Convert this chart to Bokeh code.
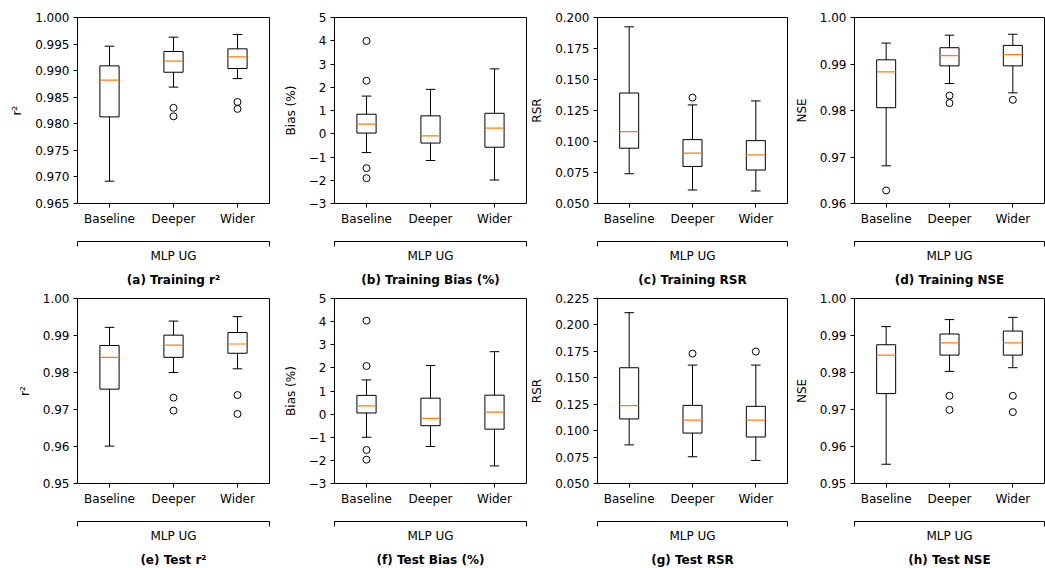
from bokeh.plotting import figure
from bokeh.models import Range1d, FixedTicker, LinearAxis, CustomJSTickFormatter
from bokeh.layouts import row, column
from bokeh.embed import file_html
from bokeh.resources import INLINE

FONT = "DejaVu Sans"

categories = ["Baseline", "Deeper", "Wider"]
group_label = "MLP UG"

# box stats per category: [whisker_low, q1, median, q3, whisker_high]
train_r2_box = [[0.9692, 0.9813, 0.9882, 0.9909, 0.9946],
                [0.9869, 0.9897, 0.9918, 0.9936, 0.9963],
                [0.9885, 0.9904, 0.9926, 0.9941, 0.9968]]
train_r2_fliers = [[], [0.9830, 0.9814], [0.9841, 0.9828]]
train_r2_ticks = [0.965, 0.970, 0.975, 0.980, 0.985, 0.990, 0.995, 1.000]

train_bias_box = [[-0.81, 0.03, 0.41, 0.84, 1.62],
                  [-1.15, -0.40, -0.09, 0.77, 1.91],
                  [-1.99, -0.58, 0.24, 0.88, 2.79]]
train_bias_fliers = [[3.99, 2.28, -1.48, -1.91], [], []]
bias_ticks = [-3, -2, -1, 0, 1, 2, 3, 4, 5]

train_rsr_box = [[0.0740, 0.0946, 0.1079, 0.1391, 0.1925],
                 [0.0609, 0.0799, 0.0906, 0.1015, 0.1295],
                 [0.0601, 0.0770, 0.0892, 0.1007, 0.1327]]
train_rsr_fliers = [[], [0.1354], []]
train_rsr_ticks = [0.050, 0.075, 0.100, 0.125, 0.150, 0.175, 0.200]

train_nse_box = [[0.9681, 0.9806, 0.9883, 0.9909, 0.9945],
                 [0.9858, 0.9896, 0.9918, 0.9935, 0.9962],
                 [0.9838, 0.9896, 0.9920, 0.9940, 0.9964]]
train_nse_fliers = [[0.9628], [0.9832, 0.9816], [0.9823]]
train_nse_ticks = [0.96, 0.97, 0.98, 0.99, 1.00]

test_r2_box = [[0.9601, 0.9755, 0.9841, 0.9873, 0.9922],
               [0.9800, 0.9841, 0.9874, 0.9901, 0.9939],
               [0.9810, 0.9852, 0.9877, 0.9908, 0.9951]]
test_r2_fliers = [[], [0.9732, 0.9697], [0.9739, 0.9688]]
test_r2_ticks = [0.95, 0.96, 0.97, 0.98, 0.99, 1.00]

test_bias_box = [[-1.00, 0.05, 0.36, 0.81, 1.48],
                 [-1.40, -0.50, -0.18, 0.69, 2.10],
                 [-2.24, -0.65, 0.09, 0.82, 2.70]]
test_bias_fliers = [[4.04, 2.08, -1.55, -1.97], [], []]

test_rsr_box = [[0.0865, 0.1111, 0.1236, 0.1595, 0.2116],
                [0.0753, 0.0977, 0.1099, 0.1239, 0.1620],
                [0.0718, 0.0940, 0.1099, 0.1230, 0.1620]]
test_rsr_fliers = [[], [0.1729], [0.1748]]
test_rsr_ticks = [0.050, 0.075, 0.100, 0.125, 0.150, 0.175, 0.200, 0.225]

test_nse_box = [[0.9552, 0.9743, 0.9847, 0.9875, 0.9924],
                [0.9803, 0.9847, 0.9880, 0.9904, 0.9943],
                [0.9813, 0.9847, 0.9880, 0.9912, 0.9949]]
test_nse_fliers = [[], [0.9737, 0.9699], [0.9737, 0.9693]]
test_nse_ticks = [0.95, 0.96, 0.97, 0.98, 0.99, 1.00]


def make_panel(box, fliers, yticks, decimals, ylabel, caption, left, fw, top, fh):
    p = figure(frame_width=fw, frame_height=fh,
               x_range=Range1d(0.5, 3.5), y_range=Range1d(yticks[0], yticks[-1]),
               output_backend="svg", toolbar_location=None,
               min_border_left=left, min_border_right=1, min_border_top=top,
               min_border_bottom=0, background_fill_color="white",
               border_fill_color="white")
    p.outline_line_color = "black"
    p.outline_line_width = 1
    p.outline_line_alpha = 1
    p.xgrid.visible = False
    p.ygrid.visible = False

    # y axis
    ya = p.yaxis[0]
    ya.ticker = FixedTicker(ticks=yticks)
    ya.formatter = CustomJSTickFormatter(
        args=dict(d=decimals),
        code="const s = Math.abs(tick).toFixed(d); return tick < -1e-9 ? '\u2212' + s : s;")
    ya.axis_line_color = None
    ya.major_tick_out = 4
    ya.major_tick_in = 0
    ya.major_tick_line_color = "black"
    ya.minor_tick_line_color = None
    ya.major_label_text_font = FONT
    ya.major_label_text_font_size = "12px"
    ya.major_label_text_color = "black"
    ya.major_label_standoff = 4
    ya.axis_label = ylabel
    ya.axis_label_text_font = FONT
    ya.axis_label_text_font_size = "12px"
    ya.axis_label_text_font_style = "normal"
    ya.axis_label_text_color = "black"
    ya.axis_label_standoff = 8

    # category axis
    xa = p.xaxis[0]
    xa.ticker = FixedTicker(ticks=[1, 2, 3])
    xa.major_label_overrides = {i + 1: c for i, c in enumerate(categories)}
    xa.axis_line_color = None
    xa.major_tick_out = 4
    xa.major_tick_in = 0
    xa.major_tick_line_color = "black"
    xa.minor_tick_line_color = None
    xa.major_label_text_font = FONT
    xa.major_label_text_font_size = "12px"
    xa.major_label_text_color = "black"
    xa.major_label_standoff = 4
    xa.axis_label = " "
    xa.axis_label_text_font_size = "9px"
    xa.axis_label_standoff = 0

    # group bracket axis
    ga = LinearAxis(ticker=FixedTicker(ticks=[0.5, 3.5]),
                    formatter=CustomJSTickFormatter(code="return '';"),
                    axis_line_color="black", axis_line_width=1,
                    major_tick_out=5, major_tick_in=0,
                    major_tick_line_color="black",
                    minor_tick_line_color=None,
                    major_label_text_font_size="0px", major_label_standoff=0,
                    axis_label=group_label, axis_label_text_font=FONT,
                    axis_label_text_font_size="12px",
                    axis_label_text_font_style="normal",
                    axis_label_text_color="black",
                    axis_label_standoff=2)
    p.add_layout(ga, "below")

    # caption axis
    ca = LinearAxis(ticker=FixedTicker(ticks=[]),
                    axis_line_color=None, major_tick_line_color=None,
                    minor_tick_line_color=None, major_tick_out=0, major_tick_in=0,
                    major_label_text_font_size="0px", major_label_standoff=0,
                    axis_label=caption, axis_label_text_font=FONT,
                    axis_label_text_font_size="12px",
                    axis_label_text_font_style="bold",
                    axis_label_text_color="black",
                    axis_label_standoff=7)
    p.add_layout(ca, "below")

    xs = [i + 1 for i in range(len(categories))]
    lo = [b[0] for b in box]
    q1 = [b[1] for b in box]
    med = [b[2] for b in box]
    q3 = [b[3] for b in box]
    hi = [b[4] for b in box]

    p.vbar(x=xs, width=0.3, bottom=q1, top=q3, fill_color=None,
           line_color="black", line_width=1)
    p.segment(x0=xs, y0=q3, x1=xs, y1=hi, line_color="black", line_width=1)
    p.segment(x0=xs, y0=q1, x1=xs, y1=lo, line_color="black", line_width=1)
    p.segment(x0=[x - 0.075 for x in xs], y0=hi, x1=[x + 0.075 for x in xs], y1=hi,
              line_color="black", line_width=1)
    p.segment(x0=[x - 0.075 for x in xs], y0=lo, x1=[x + 0.075 for x in xs], y1=lo,
              line_color="black", line_width=1)
    p.segment(x0=[x - 0.15 for x in xs], y0=med, x1=[x + 0.15 for x in xs], y1=med,
              line_color="#ff7f0e", line_width=1.2)
    fx, fy = [], []
    for x, fl in zip(xs, fliers):
        for v in fl:
            fx.append(x)
            fy.append(v)
    if fx:
        p.scatter(fx, fy, marker="circle", size=7, fill_color=None,
                  line_color="black", line_width=1)
    return p


lefts = [77, 64, 64, 66]
fws = [192, 192, 190, 190]

top_specs = [
    (train_r2_box, train_r2_fliers, train_r2_ticks, 3, "r²", "(a) Training r²"),
    (train_bias_box, train_bias_fliers, bias_ticks, 0, "Bias (%)", "(b) Training Bias (%)"),
    (train_rsr_box, train_rsr_fliers, train_rsr_ticks, 3, "RSR", "(c) Training RSR"),
    (train_nse_box, train_nse_fliers, train_nse_ticks, 2, "NSE", "(d) Training NSE"),
]
bottom_specs = [
    (test_r2_box, test_r2_fliers, test_r2_ticks, 2, "r²", "(e) Test r²"),
    (test_bias_box, test_bias_fliers, bias_ticks, 0, "Bias (%)", "(f) Test Bias (%)"),
    (test_rsr_box, test_rsr_fliers, test_rsr_ticks, 3, "RSR", "(g) Test RSR"),
    (test_nse_box, test_nse_fliers, test_nse_ticks, 2, "NSE", "(h) Test NSE"),
]

row1 = [make_panel(*s, left=l, fw=w, top=17, fh=186)
        for s, l, w in zip(top_specs, lefts, fws)]
row2 = [make_panel(*s, left=l, fw=w, top=9, fh=185)
        for s, l, w in zip(bottom_specs, lefts, fws)]

layout = column(row(*row1), row(*row2))

open("out.html", "w").write(file_html(layout, INLINE))
